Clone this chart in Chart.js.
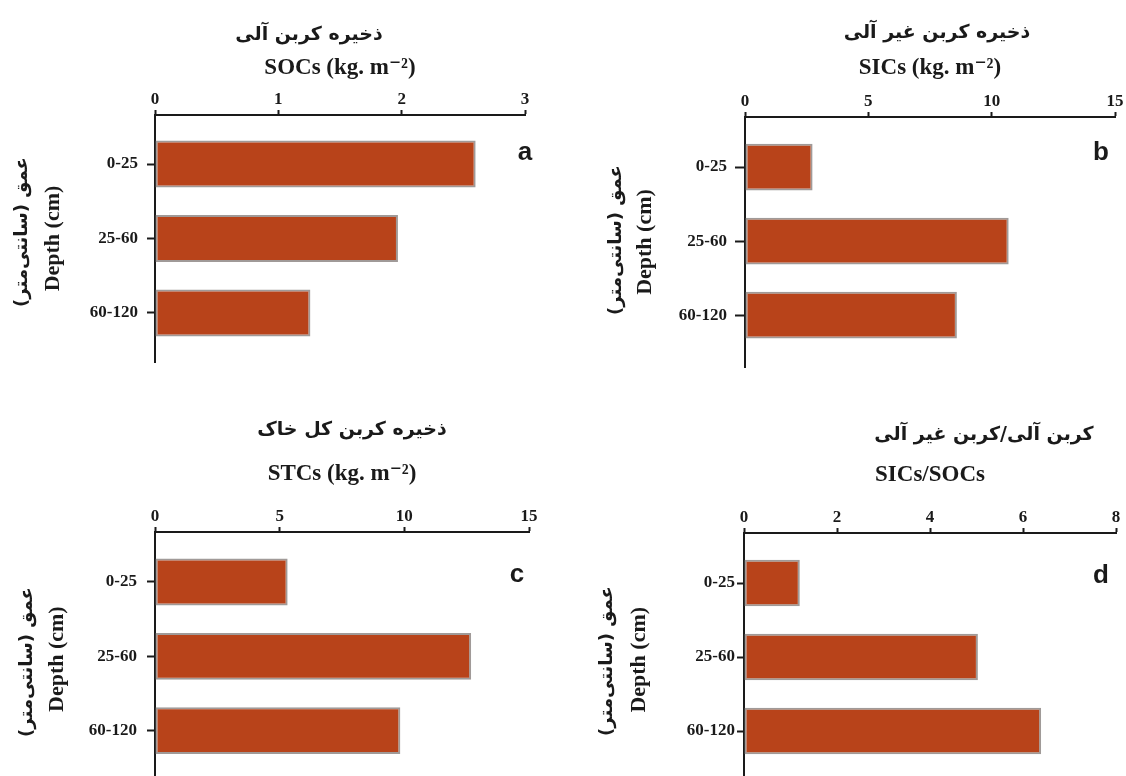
<!DOCTYPE html>
<html><head><meta charset="utf-8">
<script src="https://cdn.jsdelivr.net/npm/chart.js@4/dist/chart.umd.min.js"></script>
<style>
html,body{margin:0;padding:0;background:#fff;overflow:hidden;width:1126px;height:776px;}
canvas{position:absolute;}
</style></head><body>
<canvas id="ca" style="left:0;top:0" width="563" height="388"></canvas>
<canvas id="cb" style="left:563px;top:0" width="563" height="388"></canvas>
<canvas id="cc" style="left:0;top:388px" width="563" height="420"></canvas>
<canvas id="cd" style="left:563px;top:388px" width="563" height="420"></canvas>
<script>
// ---- data ----
const depthLabels = ['0-25', '25-60', '60-120'];
const socValues   = [2.60, 1.97, 1.26];
const sicValues   = [2.74, 10.69, 8.59];
const stcValues   = [5.32, 12.68, 9.84];
const ratioValues = [1.20, 5.03, 6.39];
const socTicks   = [0, 1, 2, 3];
const sicTicks   = [0, 5, 10, 15];
const stcTicks   = [0, 5, 10, 15];
const ratioTicks = [0, 2, 4, 6, 8];
const persianTitles = ['ذخیره کربن آلی', 'ذخیره کربن غیر آلی', 'ذخیره کربن کل خاک', 'کربن آلی/کربن غیر آلی'];
const englishTitles = ['SOCs (kg. m⁻²)', 'SICs (kg. m⁻²)', 'STCs (kg. m⁻²)', 'SICs/SOCs'];
const panelLetters = ['a', 'b', 'c', 'd'];
const depthTitlePersian = 'عمق (سانتی‌متر)';
const depthTitleEnglish = 'Depth (cm)';

const SERIF = "'Liberation Serif', 'Times New Roman', 'DejaVu Sans', serif";
const BAR_FILL = '#B8431A';
const BAR_EDGE = '#a09a98';
const INK = '#1a1a1a';

const panelTextPlugin = {
  id: 'panelText',
  afterDraw(chart, args, opts) {
    const ctx = chart.ctx;
    ctx.save();
    ctx.fillStyle = INK;
    ctx.textAlign = 'center';
    ctx.textBaseline = 'middle';
    ctx.font = "bold 19px 'DejaVu Sans'";
    ctx.fillText(opts.title, opts.titleX, opts.titleY);
    ctx.font = "bold 26px 'Liberation Sans'";
    ctx.fillText(opts.letter, opts.letterX, opts.letterY);
    ctx.translate(opts.depthX, opts.depthY);
    ctx.rotate(-Math.PI / 2);
    ctx.font = "bold 18px 'DejaVu Sans'";
    ctx.fillText(opts.depth, 0, 0);
    ctx.restore();
  }
};

function makePanel(id, values, ticks, k, g) {
  new Chart(document.getElementById(id), {
    type: 'bar',
    data: {
      labels: depthLabels.map((_, i) => i),
      datasets: [{
        data: values,
        backgroundColor: BAR_FILL,
        borderColor: BAR_EDGE,
        borderWidth: 2,
        borderSkipped: false,
        categoryPercentage: 1,
        barPercentage: 0.63
      }]
    },
    options: {
      indexAxis: 'y',
      responsive: false,
      animation: false,
      devicePixelRatio: 1,
      layout: { padding: { left: 0, top: 0, right: g.padRight, bottom: g.padBottom } },
      plugins: {
        legend: { display: false },
        tooltip: { enabled: false },
        panelText: {
          title: persianTitles[k], titleX: g.titleX, titleY: g.titleY,
          letter: panelLetters[k], letterX: g.letterX, letterY: g.letterY,
          depth: depthTitlePersian, depthX: g.depthX, depthY: g.depthY
        }
      },
      scales: {
        x: {
          type: 'linear',
          position: 'top',
          min: ticks[0],
          max: ticks[ticks.length - 1],
          afterBuildTicks: s => { s.ticks = ticks.map(v => ({ value: v })); },
          afterFit: s => { s.height = g.xHeight; },
          grid: { display: true, drawOnChartArea: false, drawTicks: true, tickLength: 5, tickColor: INK, tickWidth: 2 },
          border: { display: true, color: INK, width: 2 },
          ticks: { color: INK, padding: 0, font: { family: SERIF, size: 17, weight: 'bold' } },
          title: {
            display: true, text: englishTitles[k], color: INK,
            padding: { top: g.xTitlePad, bottom: 0 },
            font: { family: SERIF, size: 23, weight: 'bold', lineHeight: 1.2 }
          }
        },
        y: {
          type: 'linear',
          position: 'left',
          reverse: true,
          offset: false,
          min: g.yMin,
          max: g.yMax,
          afterBuildTicks: s => { s.ticks = depthLabels.map((_, i) => ({ value: i })); },
          afterFit: s => { s.width = g.yWidth; },
          grid: { display: true, offset: false, drawOnChartArea: false, drawTicks: true, tickLength: g.yTickLen, tickColor: INK, tickWidth: 2 },
          border: { display: true, color: INK, width: 2 },
          ticks: {
            color: INK, padding: g.yTickPad,
            font: { family: SERIF, size: 17, weight: 'bold' },
            callback: v => depthLabels[v]
          },
          title: {
            display: true, text: depthTitleEnglish, color: INK,
            padding: { top: g.yTitlePad, bottom: 0 },
            font: { family: SERIF, size: 22, weight: 'bold', lineHeight: 1.2 }
          }
        }
      }
    },
    plugins: [panelTextPlugin]
  });
}

makePanel('ca', socValues, socTicks, 0, {
  padRight: 38, padBottom: 26, xHeight: 115, yWidth: 155, yMin: -0.658, yMax: 2.658,
  xTitlePad: 53.8, yTitlePad: 39.8, yTickLen: 8, yTickPad: 9,
  titleX: 309, titleY: 35, letterX: 525, letterY: 153, depthX: 22, depthY: 232
});
makePanel('cb', sicValues, sicTicks, 1, {
  padRight: 11, padBottom: 21, xHeight: 117, yWidth: 182, yMin: -0.676, yMax: 2.70,
  xTitlePad: 53.8, yTitlePad: 68.8, yTickLen: 10, yTickPad: 8,
  titleX: 374, titleY: 33, letterX: 538, letterY: 153, depthX: 53, depthY: 240
});
makePanel('cc', stcValues, stcTicks, 2, {
  padRight: 34, padBottom: 21.7, xHeight: 144, yWidth: 155, yMin: -0.673, yMax: 2.75,
  xTitlePad: 71.8, yTitlePad: 43.8, yTickLen: 8, yTickPad: 10,
  titleX: 352, titleY: 42, letterX: 517, letterY: 187, depthX: 27, depthY: 274
});
makePanel('cd', ratioValues, ratioTicks, 3, {
  padRight: 10, padBottom: 21.5, xHeight: 145, yWidth: 181, yMin: -0.676, yMax: 2.75,
  xTitlePad: 72.8, yTitlePad: 62.8, yTickLen: 7, yTickPad: 2,
  titleX: 421, titleY: 47, letterX: 538, letterY: 188, depthX: 44, depthY: 273
});
</script>
</body></html>
